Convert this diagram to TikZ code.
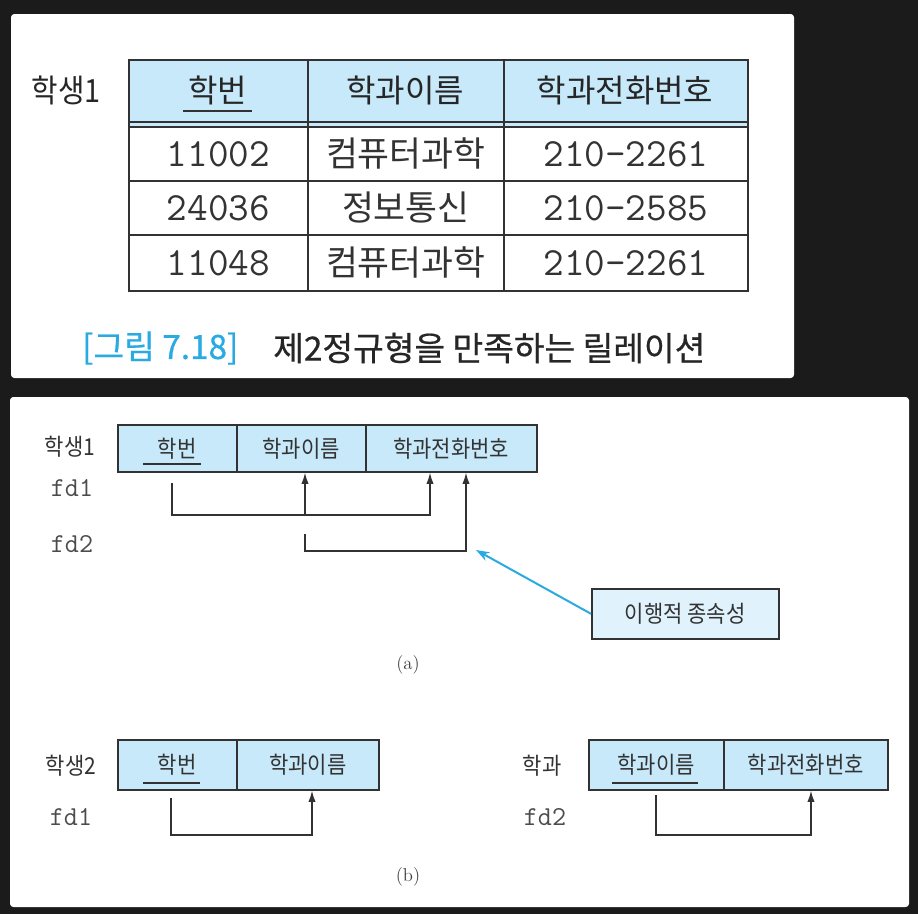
\documentclass[tikz,border=0pt]{standalone}
\usepackage{fontspec}
\newfontfamily\kr{Noto Sans CJK KR}
\newfontfamily\krn{Noto Sans CJK KR}[FakeStretch=0.9]
\newfontfamily\krb{Noto Sans CJK KR}[FakeBold=0.6]
\usetikzlibrary{arrows.meta}
\definecolor{pagebg}{RGB}{27,27,27}
\definecolor{hdrblue}{RGB}{199,233,250}
\definecolor{noteblue}{RGB}{224,243,253}
\definecolor{capblue}{RGB}{41,171,226}
\definecolor{edge}{RGB}{50,50,50}

\begin{document}
\begin{tikzpicture}[x=0.75pt,y=0.75pt,yscale=-1,xscale=1,
  cell/.style 2 args={draw=edge,line width=1.2pt,anchor=north west,inner sep=0pt,minimum width=#1*0.75pt,minimum height=#2*0.75pt},
  hdrcell/.style 2 args={cell={#1}{#2},fill=hdrblue},
  bigkr/.style={font=\kr\fontsize{24}{26}\selectfont,text=black!85},
  datakr/.style={font=\kr\fontsize{26}{28}\selectfont,text=black!80},
  datatt/.style={font=\ttfamily\fontsize{30}{32}\selectfont,text=black!80},
  smallkr/.style={font=\krn\fontsize{17.5}{19}\selectfont,text=black!80},
  fdlabel/.style={font=\ttfamily\fontsize{20.5}{22}\selectfont,text=black!70},
  keyline/.style={draw=edge,line width=1.1pt},
  fdline/.style={draw=edge,line width=1.1pt,-{Latex[length=8.5pt,width=5.5pt]}},
  notearrow/.style={draw=capblue,line width=1.5pt,-{Stealth[length=10pt,width=7pt]}}]
%uncomment if require: \path (0,914); %set diagram left start at 0, and has height of 914

%Shape: Background
\fill[pagebg] (0,0) rectangle (918,914);
%Shape: Panels
\fill[white,rounded corners=2.5pt] (11,14) rectangle (794,378);
\fill[white,rounded corners=2.5pt] (10,397) rectangle (909,907);

%Table: 학생1 (top)
\node[hdrcell={179}{67}] (s1k) at (128,59) {};
\node[hdrcell={196}{67}] (s1n) at (307,59) {};
\node[hdrcell={244}{67}] (s1p) at (503,59) {};
\draw[edge,line width=1.2pt] (s1k.north west |- 0,122) -- (s1p.north east |- 0,122);
\node[bigkr] at (217.5,90) {학번};
\node[bigkr] at (405,90) {학과이름};
\node[bigkr] at (625,90) {학과전화번호};
\draw[keyline,line width=1.3pt] (183,111) -- (252,111);
\node[cell={179}{54},datatt] (r1a) at (128,126) {11002};
\node[cell={196}{54},datakr] (r1b) at (307,126) {컴퓨터과학};
\node[cell={244}{54},datatt] (r1c) at (503,126) {210-2261};
\node[cell={179}{54},datatt] (r2a) at (128,180) {24036};
\node[cell={196}{54},datakr] (r2b) at (307,180) {정보통신};
\node[cell={244}{54},datatt] (r2c) at (503,180) {210-2585};
\node[cell={179}{56},datatt] (r3a) at (128,234) {11048};
\node[cell={196}{56},datakr] (r3b) at (307,234) {컴퓨터과학};
\node[cell={244}{56},datatt] (r3c) at (503,234) {210-2261};
% Text Node
\node[font=\krn\fontsize{24}{26}\selectfont,text=black!85] (s1lbl) at (66,90) {학생1};
% Text Node
\node[anchor=west,inner sep=0pt,font=\krb\fontsize{25}{27}\selectfont,text=capblue] (capnum) at (82,348) {[그림 7.18]};
\node[anchor=west,inner sep=0pt,font=\krb\fontsize{25}{27}\selectfont,text=black!85] (captxt) at (273,348) {제2정규형을 만족하는 릴레이션};

%Table: 학생1 (a)
\node[hdrcell={119}{47},smallkr] (a1k) at (117,424) {학번};
\node[hdrcell={129}{47},smallkr] (a1n) at (236,424) {학과이름};
\node[hdrcell={171}{47},smallkr] (a1p) at (365,424) {학과전화번호};
\draw[keyline] (143,464) -- (201,464);
% Text Node
\node[smallkr] (a1lbl) at (70,447) {학생1};
\node[fdlabel] (a1fd1) at (72,488) {fd1};
\node[fdlabel] (a1fd2) at (72,544) {fd2};
%Straight Lines: fd1
\coordinate (fa1s) at (172,483);
\coordinate (fa1e) at (430,515);
\coordinate (fa1m) at (305,515);
\draw[fdline] (fa1s) |- (fa1e) -- (fa1e |- a1p.south);
\draw[fdline] (fa1m) -- (fa1m |- a1n.south);
%Straight Lines: fd2
\coordinate (fa2s) at (305,534);
\coordinate (fa2e) at (466,551);
\draw[fdline] (fa2s) |- (fa2e) -- (fa2e |- a1p.south);
%Shape: Note
\node[cell={187}{50},fill=noteblue,smallkr] (trans) at (591,588) {이행적 종속성};
\coordinate (transtip) at (476,550);
\draw[notearrow] (trans.west) -- (transtip);
% Text Node
\node[font=\fontsize{14}{16}\selectfont,text=black!75] (capa) at (408,665) {(a)};

%Table: 학생2 (b)
\node[hdrcell={119}{50},smallkr] (b1k) at (117,739) {학번};
\node[hdrcell={142}{50},smallkr] (b1n) at (236,739) {학과이름};
\draw[keyline] (143,783) -- (200,783);
\node[smallkr] (b1lbl) at (71,766) {학생2};
\node[fdlabel] (b1fd1) at (71,817) {fd1};
\coordinate (fb1s) at (171,798);
\coordinate (fb1e) at (312,835);
\draw[fdline] (fb1s) |- (fb1e) -- (fb1e |- b1n.south);

%Table: 학과 (b)
\node[hdrcell={135}{50},smallkr] (b2k) at (588,739) {학과이름};
\node[hdrcell={164}{50},smallkr] (b2p) at (723,739) {학과전화번호};
\draw[keyline] (612,783) -- (698,783);
\node[smallkr] (b2lbl) at (542,766) {학과};
\node[fdlabel] (b2fd2) at (545,817) {fd2};
\coordinate (fb2s) at (656,795);
\coordinate (fb2e) at (811,835);
\draw[fdline] (fb2s) |- (fb2e) -- (fb2e |- b2p.south);
% Text Node
\node[font=\fontsize{14}{16}\selectfont,text=black!75] (capb) at (408,877) {(b)};

\end{tikzpicture}
\end{document}
